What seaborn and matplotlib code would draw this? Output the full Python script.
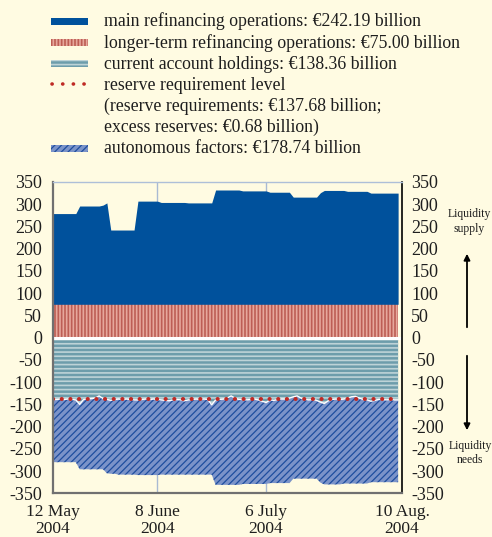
import numpy as np
import pandas as pd
import matplotlib
matplotlib.use("Agg")
import matplotlib.pyplot as plt
from matplotlib.patches import Rectangle, FancyArrowPatch
from matplotlib.lines import Line2D
import seaborn as sns

# ---------------- data ----------------
start_date = "2004-05-12"
end_date = "2004-08-09"

main_refinancing = [
    204, 204, 204, 204, 204, 204, 204,
    221, 221, 221, 221, 221, 221, 223,
    228, 167, 167, 167, 167, 167, 167, 167,
    232, 232, 232, 232, 232, 232,
    229, 229, 229, 229, 229, 229, 229,
    228, 228, 228, 228, 228, 228, 228,
    257, 257, 257, 257, 257, 257, 257,
    255, 255, 255, 255, 255, 255, 255,
    252, 252, 252, 252, 252, 252,
    241, 241, 241, 241, 241, 241, 241,
    251,
    256, 256, 256, 256, 256, 256,
    254, 254, 254, 254, 254, 254,
    250, 250, 250, 250, 250, 250, 250, 250,
]
longer_term = [75.0] * 90
current_account = [
    139, 139, 138, 139, 138, 139, 140,
    150, 139, 138, 137, 136, 131, 137,
    139, 141, 139, 138, 139, 138, 139, 140,
    140, 139, 138, 139, 138, 139,
    140, 141, 142, 140, 139, 140, 142,
    140, 139, 138, 139, 138, 139, 151,
    140, 139, 138, 136, 131, 136, 139,
    139, 140, 139, 138, 140, 143, 146,
    140, 141, 139, 138, 138, 136,
    133, 131, 136, 139, 140, 139, 141,
    145,
    148, 142, 139, 138, 139,
    138, 136, 133, 132, 136, 139, 140,
    143, 141, 139, 139, 140, 139, 140, 140,
]
autonomous = [
    141, 141, 142, 141, 142, 141, 140,
    146, 157, 158, 159, 160, 165, 159,
    166, 165, 167, 170, 169, 170, 169, 168,
    169, 170, 171, 170, 171, 170,
    168, 167, 166, 168, 169, 168, 166,
    168, 169, 170, 169, 170, 169, 157,
    191, 192, 193, 195, 200, 195, 192,
    190, 189, 190, 191, 189, 186, 183,
    187, 186, 188, 189, 189, 191,
    184, 186, 181, 178, 177, 178, 176,
    181,
    182, 188, 191, 192, 191,
    190, 192, 195, 196, 192, 189, 188,
    182, 184, 186, 186, 185, 186, 185, 185,
]
reserve_requirement = 137.68

y_ticks = [350, 300, 250, 200, 150, 100, 50, 0, -50, -100, -150, -200, -250, -300, -350]
x_tick_dates = ["2004-05-12", "2004-06-08", "2004-07-06", "2004-08-10"]
x_tick_labels = ["12 May\n2004", "8 June\n2004", "6 July\n2004", "10 Aug.\n2004"]
legend_lines = [
    "main refinancing operations: \u20ac242.19 billion",
    "longer-term refinancing operations: \u20ac75.00 billion",
    "current account holdings: \u20ac138.36 billion",
    "reserve requirement level",
    "(reserve requirements: \u20ac137.68 billion;",
    "excess reserves: \u20ac0.68 billion)",
    "autonomous factors: \u20ac178.74 billion",
]

# ---------------- style ----------------
BG = "#FFFBE2"
MRO_C = "#00519C"
LTRO_FACE = "#E6A89C"
LTRO_HATCH = "#BD5E55"
CA_FACE = "#6D9DAB"
CA_HATCH = "#BDD3D7"
AUT_FACE = "#7B93C9"
AUT_HATCH = "#1F4E9E"
RES_C = "#BF2A25"
GRID_C = "#A9BAD3"
TXT_C = "#1E1E1E"

sns.set_style("white")
plt.rcParams["font.family"] = ["Liberation Serif", "DejaVu Serif"]
plt.rcParams["hatch.linewidth"] = 1.1

W, H = 492, 537
fig = plt.figure(figsize=(W / 100, H / 100), dpi=100, facecolor=BG)


def fx(px):
    return px / W


def fy(py):
    return 1 - py / H


ax_l, ax_r, ax_t, ax_b = 52.5, 402.0, 182.0, 493.3
ax = fig.add_axes([fx(ax_l), fy(ax_b), fx(ax_r) - fx(ax_l), fy(ax_t) - fy(ax_b)])
ax.set_facecolor(BG)

dates = pd.date_range(start_date, end_date, freq="D")
mro = np.array(main_refinancing, dtype=float)
ltro = np.array(longer_term, dtype=float)
ca = np.array(current_account, dtype=float)
aut = np.array(autonomous, dtype=float)

# vertical guide lines behind fills
for d in x_tick_dates[1:3]:
    ax.axvline(pd.Timestamp(d), color=GRID_C, lw=1.0, zorder=0.5)

with plt.rc_context({"hatch.linewidth": 1.2}):
    ax.fill_between(dates, 0, ltro, facecolor=LTRO_FACE, edgecolor=LTRO_HATCH,
                    hatch="|||||", linewidth=0, zorder=1)
ax.fill_between(dates, ltro, ltro + mro, color=MRO_C, linewidth=0, zorder=1)
with plt.rc_context({"hatch.linewidth": 1.2}):
    ax.fill_between(dates, 0, -ca, facecolor=CA_FACE, edgecolor=CA_HATCH,
                    hatch="----", linewidth=0, zorder=1)
with plt.rc_context({"hatch.linewidth": 0.9}):
    ax.fill_between(dates, -ca, -(ca + aut), facecolor=AUT_FACE, edgecolor=AUT_HATCH,
                    hatch="/////", linewidth=0, zorder=1)

ax.axhline(0, color="white", lw=2.2, zorder=2)
sns.lineplot(x=dates, y=-ca, color="white", lw=1.0, ax=ax, zorder=3)
res_level = np.full(len(dates), -reserve_requirement)
sns.lineplot(x=dates, y=res_level, color=RES_C, lw=2.9, ax=ax, zorder=4,
             linestyle=(0, (0.05, 2.1)), dash_capstyle="round")

ax.set_xlim(pd.Timestamp(x_tick_dates[0]), pd.Timestamp(x_tick_dates[-1]))
ax.set_ylim(-350, 350)
ax.set_xticks([pd.Timestamp(d) for d in x_tick_dates])
ax.set_xticklabels(x_tick_labels, fontsize=12.5, linespacing=1.05)
ax.set_yticks(y_ticks)
ax.set_yticklabels([str(v) for v in y_ticks], fontsize=13)
ax.set_xlabel("")
ax.set_ylabel("")
ax.tick_params(axis="x", direction="out", length=5, width=1.2, color="#808080",
               pad=3, labelcolor=TXT_C)
ax.tick_params(axis="y", length=0, pad=7.5, labelcolor=TXT_C)

for s in ["left", "bottom"]:
    ax.spines[s].set_color("#707070")
    ax.spines[s].set_linewidth(1.6)
ax.spines["top"].set_color("#AEBFD8")
ax.spines["top"].set_linewidth(1.0)
ax.spines["right"].set_color("black")
ax.spines["right"].set_linewidth(1.2)
for s in ax.spines.values():
    s.set_zorder(5)

ax2 = ax.twinx()
ax2.set_ylim(-350, 350)
ax2.set_yticks(y_ticks)
ax2.set_yticklabels([str(v) for v in y_ticks], fontsize=13)
ax2.tick_params(axis="y", length=0, pad=6.5, labelcolor=TXT_C)
for s in ax2.spines.values():
    s.set_visible(False)

# ---------------- legend (manual) ----------------
hx0, hx1 = 51, 88
tx = 104
base0 = 26.5
step = 21.1
baselines = [base0 + step * i for i in range(len(legend_lines))]
for txt, b in zip(legend_lines, baselines):
    fig.text(fx(tx), fy(b), txt, fontsize=12.8, va="baseline", ha="left",
             color=TXT_C)

hh = 7.0 / H


def handle_rect(row, **kw):
    cy = baselines[row] - 5.0
    r = Rectangle((fx(hx0), fy(cy) - hh / 2), fx(hx1) - fx(hx0), hh,
                  transform=fig.transFigure, **kw)
    fig.add_artist(r)


handle_rect(0, facecolor=MRO_C, linewidth=0)
with plt.rc_context({"hatch.linewidth": 1.2}):
    handle_rect(1, facecolor=LTRO_FACE, edgecolor=LTRO_HATCH, hatch="|||||", linewidth=0)
    handle_rect(2, facecolor=CA_FACE, edgecolor=CA_HATCH, hatch="----", linewidth=0)
with plt.rc_context({"hatch.linewidth": 0.9}):
    handle_rect(6, facecolor=AUT_FACE, edgecolor=AUT_HATCH, hatch="/////", linewidth=0)
cy = baselines[3] - 6.0
fig.add_artist(Line2D([fx(hx0 + 1), fx(hx1)], [fy(cy), fy(cy)], transform=fig.transFigure,
                      color=RES_C, lw=2.6, linestyle=(0, (0.05, 2.9)),
                      dash_capstyle="round"))

# ---------------- right annotations ----------------
fig.text(fx(469), fy(221.5), "Liquidity\nsupply", fontsize=8.4, ha="center", va="center",
         linespacing=1.25, color=TXT_C)
fig.text(fx(470), fy(453), "Liquidity\nneeds", fontsize=8.4, ha="center", va="center",
         linespacing=1.25, color=TXT_C)
fig.add_artist(FancyArrowPatch((fx(467), fy(330)), (fx(467), fy(251)),
                               transform=fig.transFigure, arrowstyle="-|>",
                               mutation_scale=9, lw=1.3, color="black"))
fig.add_artist(FancyArrowPatch((fx(467), fy(353)), (fx(467), fy(433)),
                               transform=fig.transFigure, arrowstyle="-|>",
                               mutation_scale=9, lw=1.3, color="black"))

fig.savefig("out.png", dpi=100, facecolor=BG)
